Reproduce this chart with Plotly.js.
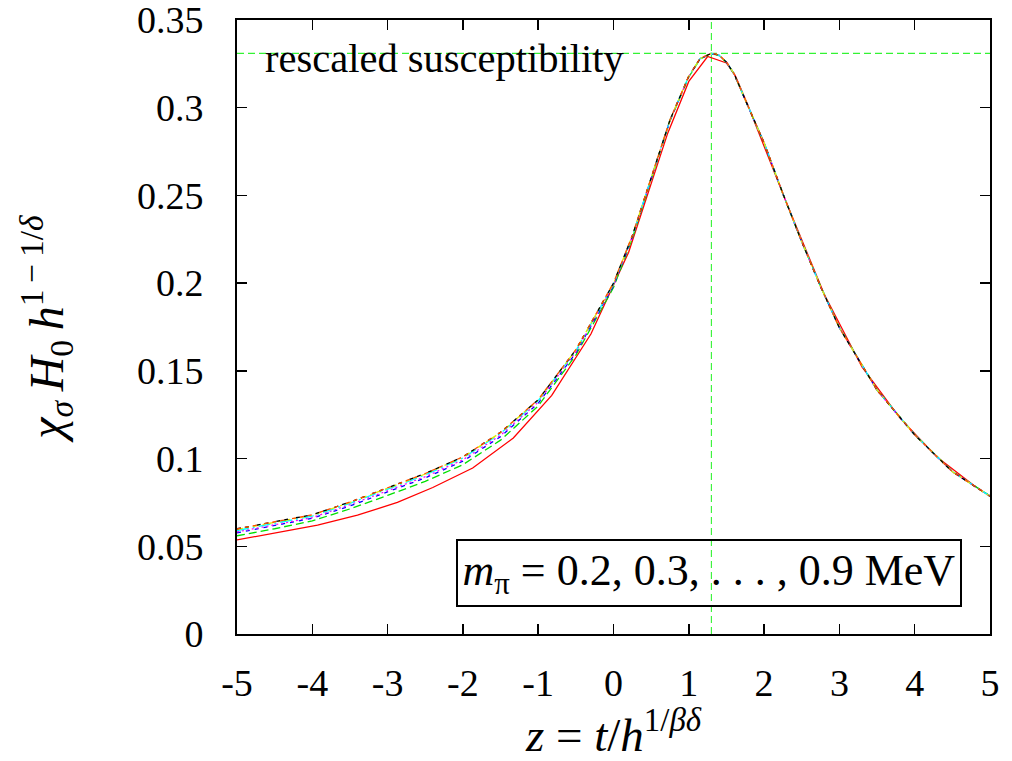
<!DOCTYPE html>
<html>
<head>
<meta charset="utf-8">
<script src="https://cdn.plot.ly/plotly-3.0.1.min.js"></script>
<style>html,body{margin:0;padding:0;background:#fff;}#chart{width:1012px;height:761px;}</style>
</head>
<body>
<div id="chart"></div>
<script>
// Common z grid for the finely sampled series
const zFine = [-5, -4.5, -4, -3.5, -3, -2.5, -2, -1.5, -1, -0.5, 0, 0.25, 0.5, 0.75, 1, 1.15, 1.3, 1.4, 1.5, 1.6, 1.75, 2, 2.25, 2.5, 2.75, 3, 3.5, 4, 4.5, 5];
// Red series sampled more coarsely
const zRed = [-5, -4.47, -3.93, -3.4, -2.87, -2.4, -1.87, -1.33, -0.82, -0.3, 0.2, 0.72, 1.0, 1.25, 1.5, 1.62, 1.77, 2.3, 2.8, 3.3, 3.8, 4.3, 4.8, 5];

const chiRed     = [0.0536, 0.0576, 0.0621, 0.0677, 0.0750, 0.0835, 0.0946, 0.1117, 0.1360, 0.1710, 0.2175, 0.2855, 0.3150, 0.3292, 0.3255, 0.3180, 0.3030, 0.2455, 0.1935, 0.1522, 0.1233, 0.1007, 0.0842, 0.0786];
const chiGreen   = [0.0560, 0.0600, 0.0645, 0.0713, 0.0790, 0.0870, 0.0965, 0.1105, 0.1300, 0.1590, 0.1975, 0.2255, 0.2590, 0.2925, 0.3175, 0.3278, 0.3308, 0.3298, 0.3258, 0.3193, 0.3043, 0.2798, 0.2508, 0.2236, 0.1982, 0.1748, 0.1392, 0.1137, 0.0927, 0.0787];
const chiBlue    = [0.0577, 0.0617, 0.0660, 0.0730, 0.0808, 0.0890, 0.0985, 0.1125, 0.1315, 0.1602, 0.1985, 0.2262, 0.2595, 0.2928, 0.3178, 0.3279, 0.3309, 0.3299, 0.3259, 0.3194, 0.3044, 0.2800, 0.2510, 0.2235, 0.1980, 0.1746, 0.1390, 0.1135, 0.0926, 0.0786];
const chiMagenta = [0.0582, 0.0622, 0.0664, 0.0737, 0.0815, 0.0897, 0.0993, 0.1133, 0.1322, 0.1608, 0.1990, 0.2265, 0.2597, 0.2929, 0.3179, 0.3280, 0.3310, 0.3300, 0.3260, 0.3195, 0.3045, 0.2800, 0.2509, 0.2236, 0.1981, 0.1745, 0.1389, 0.1134, 0.0924, 0.0784];
const chiCyan    = [0.0590, 0.0630, 0.0672, 0.0745, 0.0825, 0.0907, 0.1003, 0.1143, 0.1330, 0.1615, 0.1995, 0.2268, 0.2599, 0.2930, 0.3180, 0.3280, 0.3310, 0.3300, 0.3260, 0.3196, 0.3046, 0.2801, 0.2511, 0.2237, 0.1981, 0.1746, 0.1391, 0.1136, 0.0926, 0.0786];
const chiYellow  = [0.0596, 0.0635, 0.0677, 0.0750, 0.0830, 0.0912, 0.1008, 0.1148, 0.1334, 0.1619, 0.1998, 0.2270, 0.2600, 0.2930, 0.3180, 0.3280, 0.3310, 0.3300, 0.3260, 0.3195, 0.3045, 0.2800, 0.2510, 0.2236, 0.1980, 0.1745, 0.1390, 0.1135, 0.0925, 0.0785];
const chiBlack   = [0.0600, 0.0638, 0.0680, 0.0752, 0.0832, 0.0915, 0.1010, 0.1150, 0.1335, 0.1620, 0.2000, 0.2270, 0.2600, 0.2930, 0.3180, 0.3280, 0.3310, 0.3300, 0.3260, 0.3195, 0.3045, 0.2800, 0.2510, 0.2236, 0.1980, 0.1745, 0.1390, 0.1135, 0.0925, 0.0785];
const chiOrange  = [0.0599, 0.0638, 0.0680, 0.0752, 0.0832, 0.0915, 0.1010, 0.1150, 0.1336, 0.1621, 0.2001, 0.2271, 0.2601, 0.2931, 0.3181, 0.3281, 0.3311, 0.3301, 0.3261, 0.3196, 0.3046, 0.2801, 0.2511, 0.2237, 0.1981, 0.1746, 0.1391, 0.1136, 0.0926, 0.0786];

// Peak markers (dashed guide lines)
const peakZ = 1.3;
const peakChi = 0.331;
const xRange = [-5, 5];
const yRange = [0, 0.35];

const xTickVals = [-5, -4, -3, -2, -1, 0, 1, 2, 3, 4, 5];
const xTickText = ["-5", "-4", "-3", "-2", "-1", "0", "1", "2", "3", "4", "5"];
const yTickVals = [0, 0.05, 0.1, 0.15, 0.2, 0.25, 0.3, 0.35];
const yTickText = ["0", "0.05", "0.1", "0.15", "0.2", "0.25", "0.3", "0.35"];

const guideColor = "#00f000";
const traces = [
  {x: [peakZ, peakZ], y: yRange, mode: "lines", line: {color: guideColor, width: 1.1, dash: "7px,4px"}, opacity: 0.8, hoverinfo: "skip"},
  {x: xRange, y: [peakChi, peakChi], mode: "lines", line: {color: guideColor, width: 1.1, dash: "7px,4px"}, opacity: 0.8, hoverinfo: "skip"},
  {name: "0.9", x: zRed, y: chiRed, mode: "lines", line: {color: "#ff0000", width: 1.3}},
  {name: "0.8", x: zFine, y: chiGreen, mode: "lines", line: {color: "#00e000", width: 1.3, dash: "8px,4px"}},
  {name: "0.7", x: zFine, y: chiBlue, mode: "lines", line: {color: "#0000ff", width: 1.3, dash: "4px,5px"}},
  {name: "0.6", x: zFine, y: chiMagenta, mode: "lines", line: {color: "#ff00ff", width: 1.3, dash: "2px,3px"}},
  {name: "0.5", x: zFine, y: chiCyan, mode: "lines", line: {color: "#00ffff", width: 1.3, dash: "12px,4px,2px,4px"}},
  {name: "0.4", x: zFine, y: chiYellow, mode: "lines", line: {color: "#e8e800", width: 1.3, dash: "6px,4px,2px,4px"}},
  {name: "0.3", x: zFine, y: chiBlack, mode: "lines", line: {color: "#000000", width: 1.3, dash: "4px,4px,4px,8px"}},
  {name: "0.2", x: zFine, y: chiOrange, mode: "lines", line: {color: "#ff4d00", width: 1.3, dash: "4px,4px,4px,4px,4px,8px"}}
];

const serif = "Liberation Serif, Times New Roman, serif";
const layout = {
  width: 1012, height: 761,
  margin: {l: 237, r: 22, t: 20, b: 127},
  paper_bgcolor: "#ffffff", plot_bgcolor: "#ffffff",
  showlegend: false,
  font: {family: serif, color: "#000000", size: 38},
  xaxis: {
    range: xRange, tickvals: xTickVals, ticktext: xTickText,
    ticks: "inside", ticklen: 10, tickwidth: 1.5, tickcolor: "#000",
    mirror: "ticks", showline: true, linecolor: "#000", linewidth: 2,
    showgrid: false, zeroline: false, ticklabelstandoff: 14, ticklabeloverflow: "allow",
    tickfont: {family: serif, size: 38},
    title: {text: "<i>z</i> = <i>t</i>/<i>h</i><sup>1/<i>βδ</i></sup>", font: {family: serif, size: 47}, standoff: 8}
  },
  yaxis: {
    range: yRange, tickvals: yTickVals, ticktext: yTickText,
    ticks: "inside", ticklen: 10, tickwidth: 1.5, tickcolor: "#000",
    mirror: "ticks", showline: true, linecolor: "#000", linewidth: 2,
    showgrid: false, zeroline: false, ticklabelstandoff: 24, ticklabeloverflow: "allow",
    tickfont: {family: serif, size: 38},
    title: {text: "<i>χ</i><sub><i>σ</i></sub>\u2009<i>H</i><sub>0</sub>\u2009<i>h</i><sup>1\u2009−\u20091/<i>δ</i></sup>", font: {family: serif, size: 48}, standoff: 58}
  },
  annotations: [
    {x: -4.66, y: 0.328, xref: "x", yref: "y", xanchor: "left", yanchor: "middle", showarrow: false,
     text: "rescaled susceptibility", font: {family: serif, size: 40.5}},
    {x: 1.262, y: 0.0345, xref: "x", yref: "y", xanchor: "center", yanchor: "middle", showarrow: false,
     text: "<i>m</i><sub>π</sub> = 0.2, 0.3, . . . , 0.9 MeV", font: {family: serif, size: 44},
     bordercolor: "#000", borderwidth: 2, borderpad: 4.5}
  ]
};

Plotly.newPlot("chart", traces, layout, {displayModeBar: false, staticPlot: true});
</script>
</body>
</html>
